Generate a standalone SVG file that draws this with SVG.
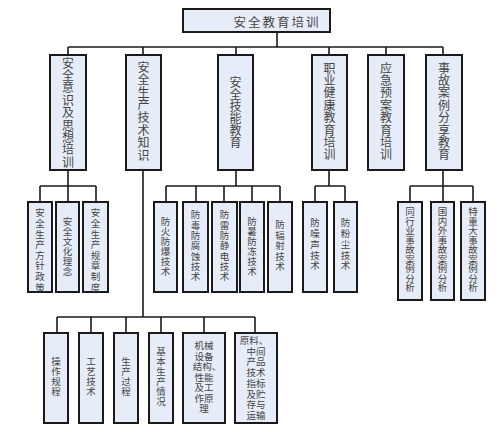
<svg xmlns="http://www.w3.org/2000/svg" width="500" height="432" viewBox="0 0 500 432">
<style>
.box{fill:#e6edf8;stroke:#1a1a1a;stroke-width:2}
.c{fill:none;stroke:#1a1a1a;stroke-width:1.6}
text{font-family:"Noto Sans CJK SC","Noto Sans CJK JP",sans-serif;fill:#444444}
.h{text-anchor:middle;dominant-baseline:central}
.v{writing-mode:vertical-rl;text-anchor:start}
.t1{font-size:12.5px;letter-spacing:2px}
.t2{font-size:12px}
.t3{font-size:9.5px}
</style>
<rect width="500" height="432" fill="#ffffff"/>
<g id="connectors">
<path class="c" d="M277 32V47M68 47H443M68 47V55M143 47V55M236 47V55M329 47V55M386 47V55M443 47V55"/>
<path class="c" d="M68 170V186M40 186H96M40 186V202M68 186V202M96 186V202"/>
<path class="c" d="M236 170V186M166 186H280M166 186V202M196 186V202M224 186V202M252 186V202M280 186V202"/>
<path class="c" d="M329 170V186M315 186H345M315 186V202M345 186V202"/>
<path class="c" d="M443 170V186M410 186H473M410 186V202M443 186V202M473 186V202"/>
<path class="c" d="M143 170V317M57 317H255M57 317V333M91 317V333M126 317V333M161 317V333M204 317V333M255 317V333"/>
</g>
<g id="root"><rect class="box" x="183" y="9" width="147" height="23"/><text class="h t1" x="277" y="21">安全教育培训</text></g>
<g id="n1"><rect class="box" x="50" y="55" width="36" height="115"/><text class="v t2" x="68" y="57" style="letter-spacing:0.4px">安全意识及思想培训</text></g>
<g id="n2"><rect class="box" x="126" y="55" width="35" height="115"/><text class="v t2" x="143.5" y="61" style="letter-spacing:0.6px">安全生产技术知识</text></g>
<g id="n3"><rect class="box" x="218" y="55" width="35" height="115"/><text class="v t2" x="235.5" y="76">安全技能教育</text></g>
<g id="n4"><rect class="box" x="312" y="55" width="35" height="115"/><text class="v t2" x="329.5" y="62" style="letter-spacing:0.4px">职业健康教育培训</text></g>
<g id="n5"><rect class="box" x="368" y="55" width="36" height="115"/><text class="v t2" x="386" y="62" style="letter-spacing:0.4px">应急预案教育培训</text></g>
<g id="n6"><rect class="box" x="426" y="55" width="36" height="115"/><text class="v t2" x="444" y="62" style="letter-spacing:0.4px">事故案例分享教育</text></g>

<g id="n1a"><rect class="box" x="28" y="202" width="24" height="90"/><text class="v t3" x="40" y="208" style="letter-spacing:1.1px">安全生产方针政策</text></g>
<g id="n1b"><rect class="box" x="56" y="202" width="23" height="90"/><text class="v t3" x="67.5" y="217" style="letter-spacing:0.5px">安全文化理念</text></g>
<g id="n1c"><rect class="box" x="83" y="202" width="25" height="90"/><text class="v t3" x="95.5" y="208" style="letter-spacing:1.1px">安全生产规章制度</text></g>

<g id="n3a"><rect class="box" x="154" y="202" width="23" height="90"/><text class="v t3" x="165.5" y="217" style="letter-spacing:0.5px">防火防爆技术</text></g>
<g id="n3b"><rect class="box" x="183" y="202" width="25" height="90"/><text class="v t3" x="195.5" y="210" style="letter-spacing:0.8px">防毒防腐蚀技术</text></g>
<g id="n3c"><rect class="box" x="212" y="202" width="25" height="90"/><text class="v t3" x="224.5" y="210" style="letter-spacing:0.8px">防雷防静电技术</text></g>
<g id="n3d"><rect class="box" x="240" y="202" width="24" height="90"/><text class="v t3" x="252" y="217" style="letter-spacing:0.5px">防暑防冻技术</text></g>
<g id="n3e"><rect class="box" x="268" y="202" width="24" height="90"/><text class="v t3" x="280" y="220" style="letter-spacing:1px">防辐射技术</text></g>

<g id="n4a"><rect class="box" x="303" y="202" width="24" height="90"/><text class="v t3" x="315" y="218" style="letter-spacing:1.25px">防噪声技术</text></g>
<g id="n4b"><rect class="box" x="334" y="202" width="23" height="90"/><text class="v t3" x="345.5" y="218" style="letter-spacing:1.25px">防粉尘技术</text></g>

<g id="n6a"><rect class="box" x="398" y="202" width="24" height="98"/><text class="v t3" x="410" y="207">同行业事故案例分析</text></g>
<g id="n6b"><rect class="box" x="431" y="202" width="23" height="98"/><text class="v t3" x="442.5" y="207">国内外事故案例分析</text></g>
<g id="n6c"><rect class="box" x="461" y="202" width="24" height="98"/><text class="v t3" x="473" y="207">特重大事故案例分析</text></g>

<g id="n2a"><rect class="box" x="44" y="333" width="24" height="90"/><text class="v t3" x="56" y="357" style="letter-spacing:0.5px">操作规程</text></g>
<g id="n2b"><rect class="box" x="79" y="333" width="24" height="90"/><text class="v t3" x="91" y="357" style="letter-spacing:0.5px">工艺技术</text></g>
<g id="n2c"><rect class="box" x="114" y="333" width="24" height="90"/><text class="v t3" x="126" y="357" style="letter-spacing:0.5px">生产过程</text></g>
<g id="n2d"><rect class="box" x="149" y="333" width="24" height="90"/><text class="v t3" x="161" y="347" style="letter-spacing:0.5px">基本生产情况</text></g>
<g id="n2e"><rect class="box" x="183" y="333" width="42" height="90"/>
<text class="h t3" x="204" y="345">机械</text><text class="h t3" x="204" y="355.5">设备</text><text class="h t3" x="207" y="366">结构、</text><text class="h t3" x="204" y="376.5">性能</text><text class="h t3" x="204" y="387">及工</text><text class="h t3" x="204" y="397.5">作原</text><text class="h t3" x="204" y="408">理</text></g>
<g id="n2f"><rect class="box" x="235" y="333" width="42" height="90"/>
<text class="h t3" x="254" y="340">原料、</text><text class="h t3" x="256" y="350.7">中间</text><text class="h t3" x="256" y="361.4">产品</text><text class="h t3" x="256" y="372.1">技术</text><text class="h t3" x="256" y="382.8">指标</text><text class="h t3" x="256" y="393.5">及贮</text><text class="h t3" x="256" y="404.2">存与</text><text class="h t3" x="256" y="414.9">运输</text></g>
</svg>
